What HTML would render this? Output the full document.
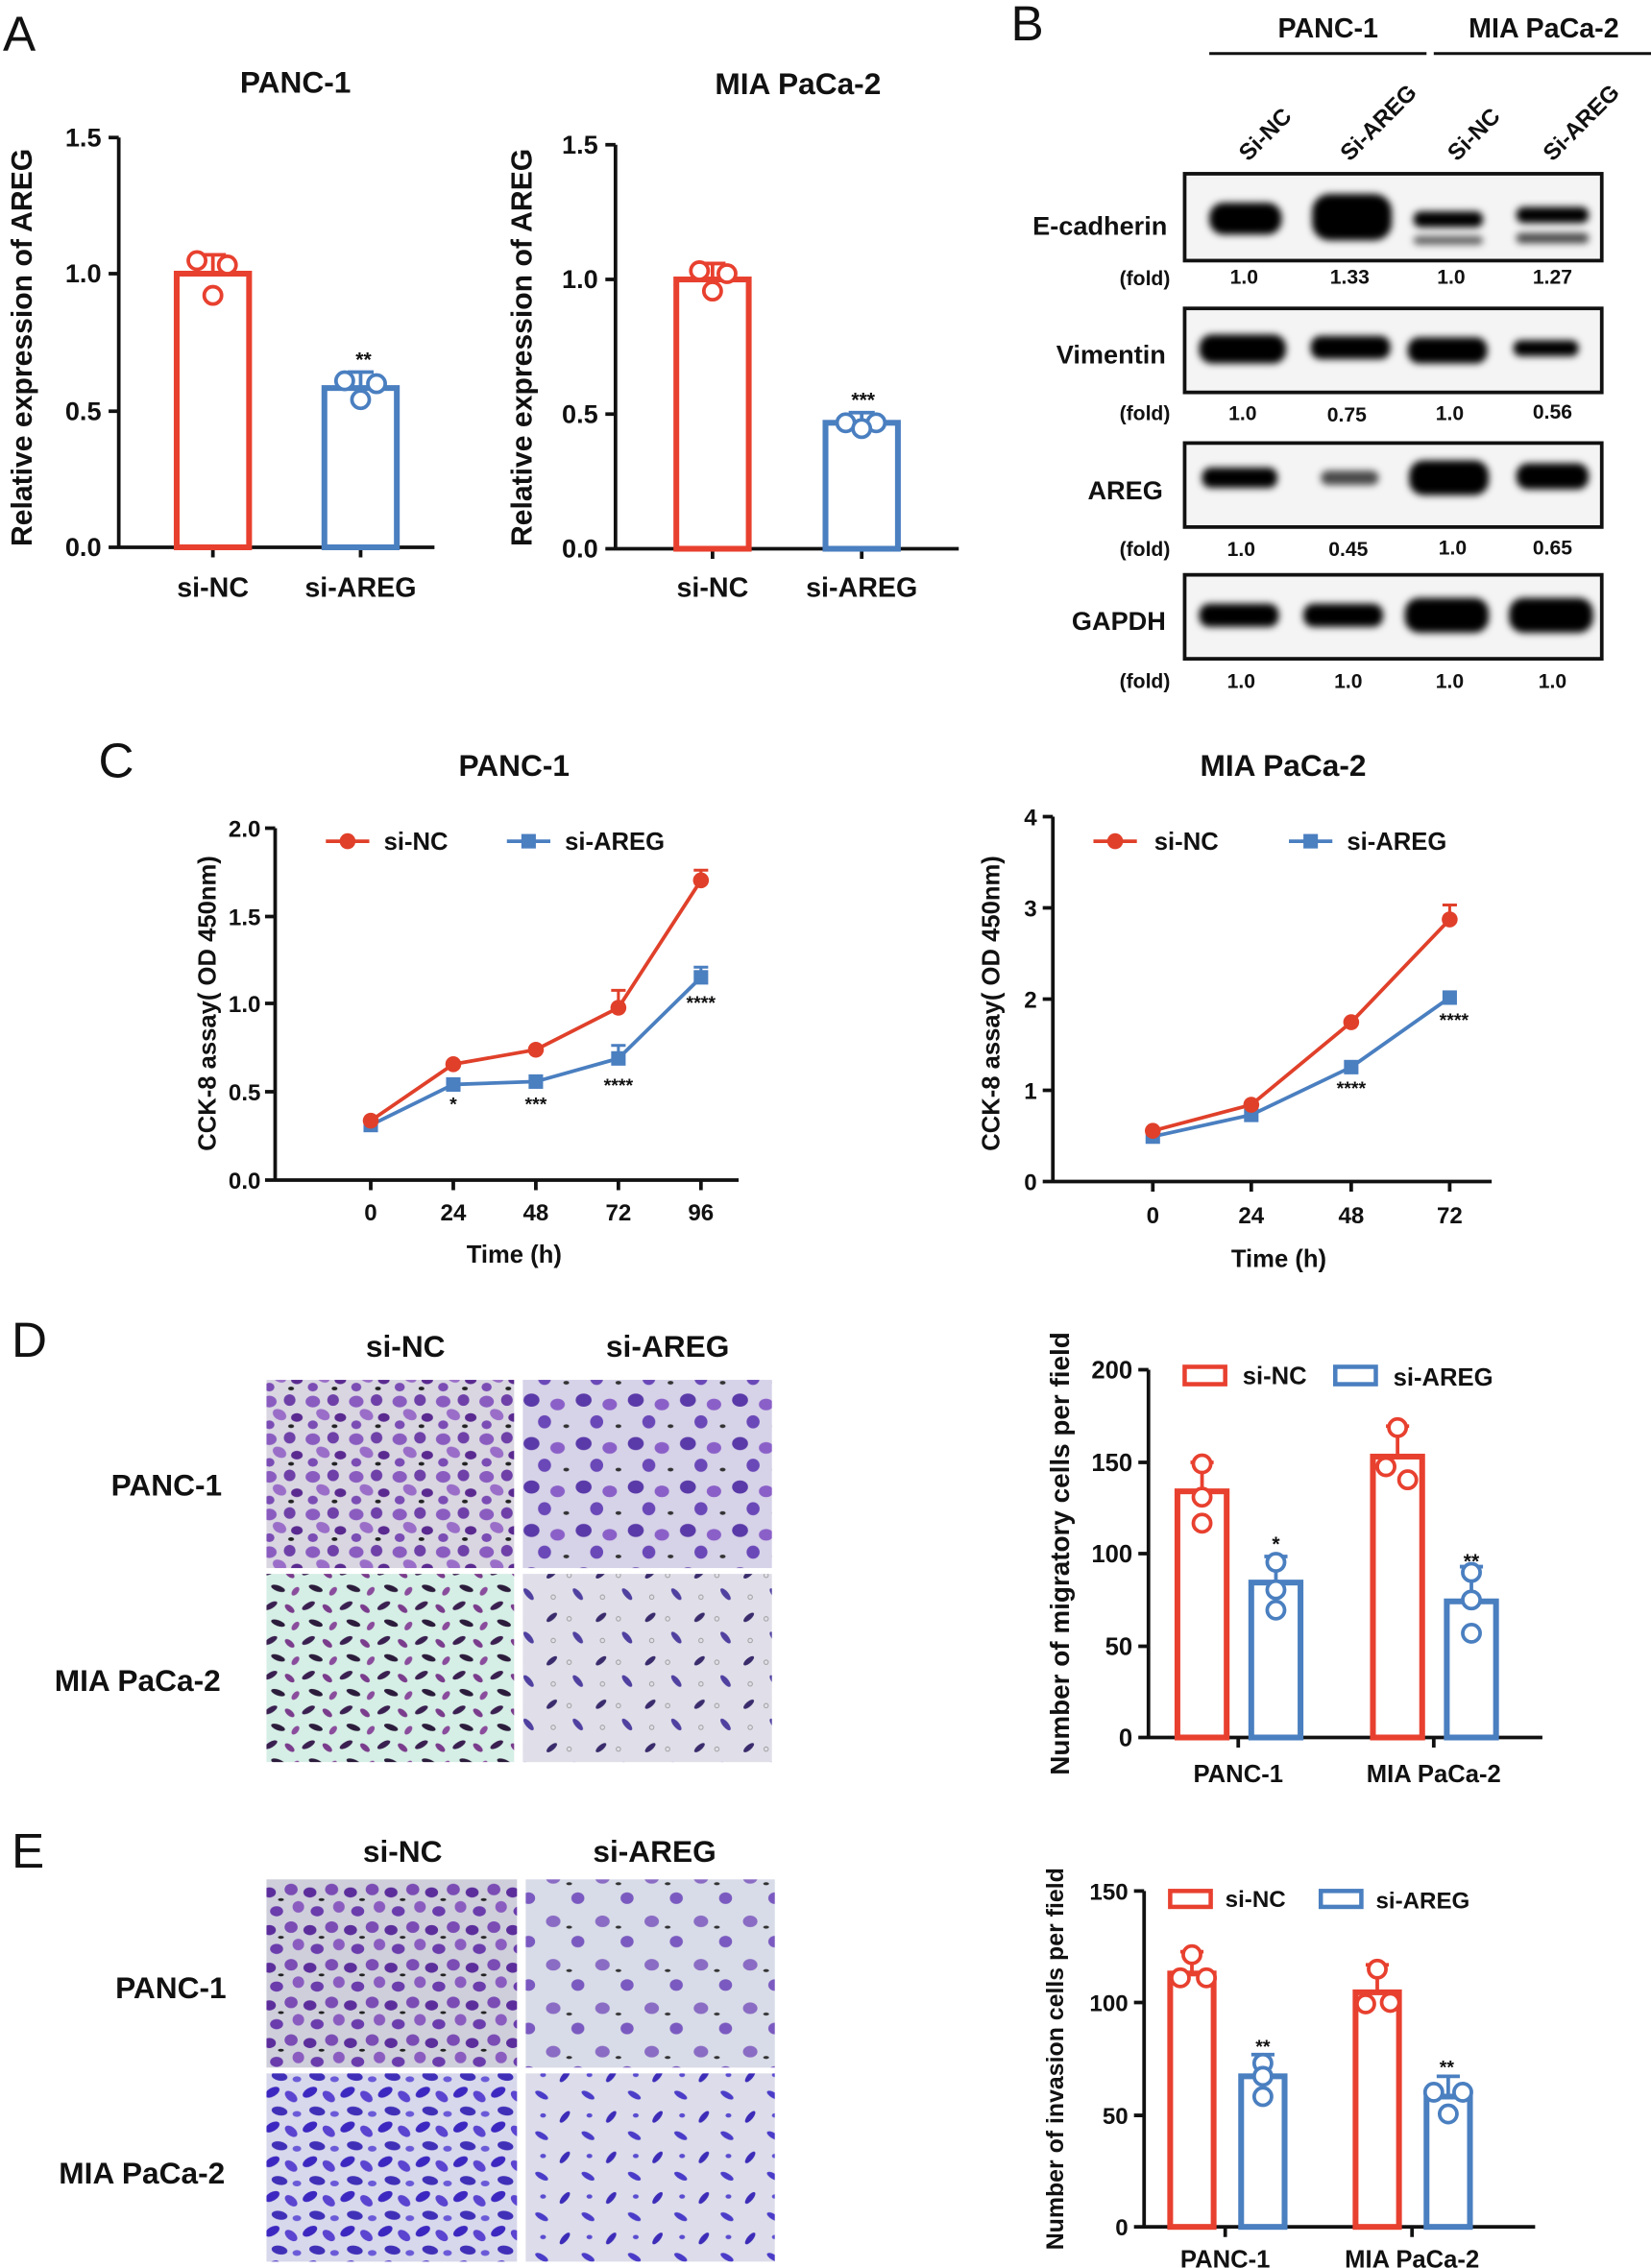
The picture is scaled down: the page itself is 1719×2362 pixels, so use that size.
<!DOCTYPE html>
<html><head><meta charset="utf-8"><style>
html,body{margin:0;padding:0;background:#fff}
svg{display:block}
text{font-family:"Liberation Sans",Arial,sans-serif;font-weight:bold;fill:#111}
</style></head><body>
<svg width="1719" height="2362" viewBox="0 0 1140 1566.4" preserveAspectRatio="none" xmlns="http://www.w3.org/2000/svg">
<defs>
<filter id="bl" x="-20%" y="-50%" width="140%" height="200%"><feGaussianBlur stdDeviation="2.5"/></filter>
<pattern id="p1" width="30" height="26" patternUnits="userSpaceOnUse">
<rect width="30" height="26" fill="#d9d6e2"/>
<ellipse cx="6" cy="6" rx="5" ry="4" fill="#8a5cc0"/><ellipse cx="20" cy="5" rx="4" ry="4" fill="#6e40a8"/>
<ellipse cx="13" cy="15" rx="5" ry="3.5" fill="#9a6ec8" transform="rotate(30 13 15)"/><ellipse cx="25" cy="17" rx="4" ry="3" fill="#5a2a90"/>
<ellipse cx="6" cy="22" rx="3.5" ry="3" fill="#7a4cb4"/><ellipse cx="21" cy="23" rx="2" ry="1.3" fill="#222"/>
</pattern>
<pattern id="p2" width="36" height="30" patternUnits="userSpaceOnUse">
<rect width="36" height="30" fill="#d6d2e8"/>
<ellipse cx="7" cy="7" rx="5.5" ry="4.5" fill="#5a3aa8"/><ellipse cx="25" cy="10" rx="5" ry="4" fill="#8a60c8"/>
<ellipse cx="16" cy="22" rx="4.5" ry="4.5" fill="#6a48b8"/><ellipse cx="31" cy="25" rx="2" ry="1.3" fill="#333"/>
</pattern>
<pattern id="p3" width="26" height="24" patternUnits="userSpaceOnUse">
<rect width="26" height="24" fill="#d6efe6"/>
<ellipse cx="5" cy="5" rx="5" ry="2" fill="#3a2050" transform="rotate(-30 5 5)"/><ellipse cx="18" cy="7" rx="4" ry="2" fill="#7a3c8c" transform="rotate(40 18 7)"/>
<ellipse cx="10" cy="17" rx="5" ry="2" fill="#2c1c3c" transform="rotate(20 10 17)"/><ellipse cx="22" cy="19" rx="3.5" ry="2" fill="#8a4c9c" transform="rotate(-50 22 19)"/>
</pattern>
<pattern id="p4" width="34" height="30" patternUnits="userSpaceOnUse">
<rect width="34" height="30" fill="#e0dfe9"/>
<ellipse cx="7" cy="7" rx="4.5" ry="1.8" fill="#3a2c6c" transform="rotate(-40 7 7)"/><ellipse cx="25" cy="21" rx="5" ry="2" fill="#5040a0" transform="rotate(50 25 21)"/>
<circle cx="19" cy="8" r="1.5" fill="none" stroke="#999" stroke-width=".6"/><circle cx="8" cy="23" r="1.5" fill="none" stroke="#999" stroke-width=".6"/>
</pattern>
<pattern id="p5" width="28" height="26" patternUnits="userSpaceOnUse">
<rect width="28" height="26" fill="#cfcfdc"/>
<ellipse cx="5" cy="5" rx="4.5" ry="4" fill="#7a4cb4"/><ellipse cx="18" cy="7" rx="4.5" ry="3.5" fill="#5c2e9c"/>
<ellipse cx="10" cy="17" rx="4" ry="4" fill="#8a5cc0"/><ellipse cx="23" cy="20" rx="4.5" ry="3.5" fill="#6a3cac"/><ellipse cx="26" cy="12" rx="2" ry="1" fill="#222"/>
</pattern>
<pattern id="p6" width="34" height="30" patternUnits="userSpaceOnUse">
<rect width="34" height="30" fill="#d8dce8"/>
<ellipse cx="8" cy="7" rx="5" ry="4" fill="#8a6cc4"/><ellipse cx="25" cy="21" rx="4.5" ry="4" fill="#7a5ac0"/><ellipse cx="19" cy="11" rx="2" ry="1" fill="#333"/>
</pattern>
<pattern id="p7" width="26" height="24" patternUnits="userSpaceOnUse">
<rect width="26" height="24" fill="#d8d8ec"/>
<ellipse cx="6" cy="5" rx="5.5" ry="3" fill="#3c28c0" transform="rotate(-30 6 5)"/><ellipse cx="19" cy="8" rx="5" ry="3" fill="#5a44d0" transform="rotate(40 19 8)"/>
<ellipse cx="11" cy="18" rx="5.5" ry="3" fill="#4030b8" transform="rotate(10 11 18)"/><ellipse cx="23" cy="20" rx="3" ry="2" fill="#6a5ad8"/>
</pattern>
<pattern id="p8" width="32" height="28" patternUnits="userSpaceOnUse">
<rect width="32" height="28" fill="#dcdcea"/>
<ellipse cx="6" cy="6" rx="5" ry="2" fill="#3c2cb8" transform="rotate(-50 6 6)"/><ellipse cx="22" cy="19" rx="5" ry="2" fill="#4a3cc8" transform="rotate(30 22 19)"/><ellipse cx="23" cy="5" rx="2" ry="1.5" fill="#5a4cd0"/>
</pattern>
</defs>

<!-- Panel A -->
<text x="2" y="35" font-size="34" style="font-weight:normal">A</text>
<text x="204" y="64" font-size="21" text-anchor="middle">PANC-1</text>
<g stroke="#111" stroke-width="2.5" fill="none">
<path d="M82 95V378H300M75 95H82M75 189H82M75 284H82M75 378H82M147 378v7M249 378v7"/>
</g>
<g font-size="18" text-anchor="end"><text x="70" y="101">1.5</text><text x="70" y="195">1.0</text><text x="70" y="290">0.5</text><text x="70" y="384">0.0</text></g>
<text transform="translate(22 240) rotate(-90)" font-size="20" text-anchor="middle">Relative expression of AREG</text>
<rect x="122" y="189" width="50" height="189" fill="none" stroke="#e8402f" stroke-width="4"/>
<rect x="224" y="268" width="50" height="110" fill="none" stroke="#4a7fc0" stroke-width="4"/>
<path d="M147 189v-13m-9 0h18" stroke="#e8402f" stroke-width="2.5"/>
<path d="M249 268v-11m-9 0h18" stroke="#4a7fc0" stroke-width="2.5"/>
<g fill="#fff" stroke="#e8402f" stroke-width="2.5"><circle cx="136" cy="180" r="6"/><circle cx="157" cy="183" r="6"/><circle cx="147" cy="204" r="6"/></g>
<g fill="#fff" stroke="#4a7fc0" stroke-width="2.5"><circle cx="238" cy="263" r="6"/><circle cx="260" cy="265" r="6"/><circle cx="249" cy="276" r="6"/></g>
<text x="251" y="253" font-size="14" text-anchor="middle">**</text>
<text x="147" y="412" font-size="19" text-anchor="middle">si-NC</text><text x="249" y="412" font-size="19" text-anchor="middle">si-AREG</text>

<text x="551" y="65" font-size="21" text-anchor="middle">MIA PaCa-2</text>
<g stroke="#111" stroke-width="2.5" fill="none">
<path d="M425 100V379H662M418 100H425M418 193H425M418 286H425M418 379H425M492 379v7M595 379v7"/>
</g>
<g font-size="18" text-anchor="end"><text x="413" y="106">1.5</text><text x="413" y="199">1.0</text><text x="413" y="292">0.5</text><text x="413" y="385">0.0</text></g>
<text transform="translate(367 240) rotate(-90)" font-size="20" text-anchor="middle">Relative expression of AREG</text>
<rect x="467" y="193" width="50" height="186" fill="none" stroke="#e8402f" stroke-width="4"/>
<rect x="570" y="292" width="50" height="87" fill="none" stroke="#4a7fc0" stroke-width="4"/>
<path d="M492 193v-11m-9 0h18" stroke="#e8402f" stroke-width="2.5"/>
<path d="M595 292v-7m-9 0h18" stroke="#4a7fc0" stroke-width="2.5"/>
<g fill="#fff" stroke="#e8402f" stroke-width="2.5"><circle cx="483" cy="187" r="6"/><circle cx="502" cy="189" r="6"/><circle cx="492" cy="201" r="6"/></g>
<g fill="#fff" stroke="#4a7fc0" stroke-width="2.5"><circle cx="584" cy="292" r="6"/><circle cx="605" cy="292" r="6"/><circle cx="595" cy="296" r="6"/></g>
<text x="596" y="281" font-size="14" text-anchor="middle">***</text>
<text x="492" y="412" font-size="19" text-anchor="middle">si-NC</text><text x="595" y="412" font-size="19" text-anchor="middle">si-AREG</text>

<!-- Panel B -->
<text x="698" y="28" font-size="34" style="font-weight:normal">B</text>
<text x="917" y="26" font-size="19" text-anchor="middle">PANC-1</text>
<text x="1066" y="26" font-size="19" text-anchor="middle">MIA PaCa-2</text>
<path d="M835 37H985M990 37H1140" stroke="#111" stroke-width="2"/>
<g font-size="16">
<text transform="translate(862 112) rotate(-45)">Si-NC</text>
<text transform="translate(932 112) rotate(-45)">Si-AREG</text>
<text transform="translate(1006 112) rotate(-45)">Si-NC</text>
<text transform="translate(1072 112) rotate(-45)">Si-AREG</text>
</g>
<g stroke="#111" stroke-width="2.5" fill="#f4f4f4">
<rect x="818" y="120" width="288" height="60"/><rect x="818" y="213" width="288" height="58"/>
<rect x="818" y="306" width="288" height="58"/><rect x="818" y="397" width="288" height="58"/>
</g>
<g fill="#000" filter="url(#bl)">
<rect x="835" y="140" width="50" height="22" rx="10"/><rect x="906" y="134" width="55" height="32" rx="12"/>
<rect x="976" y="146" width="48" height="11" rx="5"/><rect x="976" y="163" width="48" height="6" rx="3" opacity=".6"/>
<rect x="1047" y="143" width="50" height="11" rx="5"/><rect x="1047" y="161" width="50" height="7" rx="3" opacity=".7"/>
<rect x="828" y="231" width="60" height="20" rx="9"/><rect x="905" y="232" width="55" height="16" rx="7"/>
<rect x="972" y="233" width="55" height="18" rx="8"/><rect x="1045" y="235" width="45" height="11" rx="5"/>
<rect x="830" y="323" width="52" height="14" rx="6"/><rect x="912" y="325" width="40" height="10" rx="5" opacity=".7"/>
<rect x="973" y="318" width="55" height="24" rx="10"/><rect x="1047" y="320" width="50" height="18" rx="8"/>
<rect x="828" y="417" width="55" height="16" rx="7"/><rect x="900" y="417" width="55" height="16" rx="7"/>
<rect x="970" y="413" width="58" height="24" rx="10"/><rect x="1042" y="413" width="58" height="24" rx="10"/>
</g>
<g font-size="18" text-anchor="end"><text x="806" y="162">E-cadherin</text><text x="805" y="251">Vimentin</text><text x="803" y="345">AREG</text><text x="805" y="435">GAPDH</text></g>
<g font-size="14">
<g text-anchor="end"><text x="808" y="197">(fold)</text><text x="808" y="290">(fold)</text><text x="808" y="384">(fold)</text><text x="808" y="475">(fold)</text></g>
<g text-anchor="middle">
<text x="859" y="196">1.0</text><text x="932" y="196">1.33</text><text x="1002" y="196">1.0</text><text x="1072" y="196">1.27</text>
<text x="858" y="290">1.0</text><text x="930" y="291">0.75</text><text x="1001" y="290">1.0</text><text x="1072" y="289">0.56</text>
<text x="857" y="384">1.0</text><text x="931" y="384">0.45</text><text x="1003" y="383">1.0</text><text x="1072" y="383">0.65</text>
<text x="857" y="475">1.0</text><text x="931" y="475">1.0</text><text x="1001" y="475">1.0</text><text x="1072" y="475">1.0</text>
</g></g>

<!-- Panel C -->
<text x="68" y="537" font-size="34" style="font-weight:normal">C</text>
<text x="355" y="536" font-size="21" text-anchor="middle">PANC-1</text>
<g stroke="#111" stroke-width="2.5" fill="none">
<path d="M190 572V815H510M183 572H190M183 633H190M183 693H190M183 754H190M183 815H190M256 815v7M313 815v7M370 815v7M427 815v7M484 815v7"/>
</g>
<g font-size="16" text-anchor="end"><text x="180" y="578">2.0</text><text x="180" y="639">1.5</text><text x="180" y="699">1.0</text><text x="180" y="760">0.5</text><text x="180" y="821">0.0</text></g>
<g font-size="16" text-anchor="middle"><text x="256" y="843">0</text><text x="313" y="843">24</text><text x="370" y="843">48</text><text x="427" y="843">72</text><text x="484" y="843">96</text></g>
<text x="355" y="872" font-size="17" text-anchor="middle">Time (h)</text>
<text transform="translate(149 693) rotate(-90)" font-size="17" text-anchor="middle">CCK-8 assay( OD 450nm)</text>
<path d="M225 581H255" stroke="#e0402a" stroke-width="2.5"/><circle cx="240" cy="581" r="5.5" fill="#e0402a"/><text x="265" y="587" font-size="17">si-NC</text>
<path d="M350 581H380" stroke="#4a7fc0" stroke-width="2.5"/><rect x="360" y="576" width="10" height="10" fill="#4a7fc0"/><text x="390" y="587" font-size="17">si-AREG</text>
<g stroke-width="2"><path d="M427 696V684m-5 0h10M484 608V601m-5 0h10" stroke="#e0402a"/><path d="M427 730V722m-5 0h10M484 678V668m-5 0h10" stroke="#4a7fc0"/></g>
<polyline points="256,777 313,749 370,747 427,731 484,675" fill="none" stroke="#4a7fc0" stroke-width="2.5"/>
<polyline points="256,774 313,735 370,725 427,696 484,608" fill="none" stroke="#e0402a" stroke-width="2.5"/>
<g fill="#4a7fc0"><rect x="251" y="772" width="10" height="10"/><rect x="308" y="744" width="10" height="10"/><rect x="365" y="742" width="10" height="10"/><rect x="422" y="726" width="10" height="10"/><rect x="479" y="670" width="10" height="10"/></g>
<g fill="#e0402a"><circle cx="256" cy="774" r="5.5"/><circle cx="313" cy="735" r="5.5"/><circle cx="370" cy="725" r="5.5"/><circle cx="427" cy="696" r="5.5"/><circle cx="484" cy="608" r="5.5"/></g>
<g font-size="13" text-anchor="middle"><text x="313" y="767">*</text><text x="370" y="767">***</text><text x="427" y="754">****</text><text x="484" y="697">****</text></g>

<text x="886" y="536" font-size="21" text-anchor="middle">MIA PaCa-2</text>
<g stroke="#111" stroke-width="2.5" fill="none">
<path d="M727 564V816H1030M720 564H727M720 627H727M720 690H727M720 753H727M720 816H727M796 816v7M864 816v7M933 816v7M1001 816v7"/>
</g>
<g font-size="16" text-anchor="end"><text x="716" y="570">4</text><text x="716" y="633">3</text><text x="716" y="696">2</text><text x="716" y="759">1</text><text x="716" y="822">0</text></g>
<g font-size="16" text-anchor="middle"><text x="796" y="845">0</text><text x="864" y="845">24</text><text x="933" y="845">48</text><text x="1001" y="845">72</text></g>
<text x="883" y="875" font-size="17" text-anchor="middle">Time (h)</text>
<text transform="translate(690 693) rotate(-90)" font-size="17" text-anchor="middle">CCK-8 assay( OD 450nm)</text>
<path d="M755 581H785" stroke="#e0402a" stroke-width="2.5"/><circle cx="770" cy="581" r="5.5" fill="#e0402a"/><text x="797" y="587" font-size="17">si-NC</text>
<path d="M890 581H920" stroke="#4a7fc0" stroke-width="2.5"/><rect x="900" y="576" width="10" height="10" fill="#4a7fc0"/><text x="930" y="587" font-size="17">si-AREG</text>
<path d="M1001 634V625m-5 0h10" stroke="#e0402a" stroke-width="2"/>
<polyline points="796,785 864,770 933,737 1001,689" fill="none" stroke="#4a7fc0" stroke-width="2.5"/>
<polyline points="796,781 864,763 933,706 1001,635" fill="none" stroke="#e0402a" stroke-width="2.5"/>
<g fill="#4a7fc0"><rect x="791" y="780" width="10" height="10"/><rect x="859" y="765" width="10" height="10"/><rect x="928" y="732" width="10" height="10"/><rect x="996" y="684" width="10" height="10"/></g>
<g fill="#e0402a"><circle cx="796" cy="781" r="5.5"/><circle cx="864" cy="763" r="5.5"/><circle cx="933" cy="706" r="5.5"/><circle cx="1001" cy="635" r="5.5"/></g>
<g font-size="13" text-anchor="middle"><text x="933" y="756">****</text><text x="1004" y="709">****</text></g>

<!-- Panel D -->
<text x="8" y="937" font-size="34" style="font-weight:normal">D</text>
<text x="280" y="937" font-size="21" text-anchor="middle">si-NC</text><text x="461" y="937" font-size="21" text-anchor="middle">si-AREG</text>
<text x="115" y="1033" font-size="21" text-anchor="middle">PANC-1</text><text x="95" y="1168" font-size="21" text-anchor="middle">MIA PaCa-2</text>
<rect x="184" y="953" width="171" height="130" fill="url(#p1)"/><rect x="361" y="953" width="172" height="130" fill="url(#p2)"/>
<rect x="184" y="1087" width="171" height="130" fill="url(#p3)"/><rect x="361" y="1087" width="172" height="130" fill="url(#p4)"/>

<g stroke="#111" stroke-width="2.5" fill="none">
<path d="M793 946V1200H1065M786 946H793M786 1010H793M786 1073H793M786 1137H793M786 1200H793M855 1200v7M990 1200v7"/>
</g>
<g font-size="17" text-anchor="end"><text x="782" y="952">200</text><text x="782" y="1016">150</text><text x="782" y="1079">100</text><text x="782" y="1143">50</text><text x="782" y="1206">0</text></g>
<text transform="translate(738 1073) rotate(-90)" font-size="18.5" text-anchor="middle">Number of migratory cells per field</text>
<rect x="818" y="944" width="28" height="12" fill="none" stroke="#e8402f" stroke-width="3"/><text x="858" y="956" font-size="17">si-NC</text>
<rect x="922" y="944" width="28" height="12" fill="none" stroke="#4a7fc0" stroke-width="3"/><text x="962" y="957" font-size="17">si-AREG</text>
<rect x="813" y="1030" width="34" height="170" fill="none" stroke="#e8402f" stroke-width="4"/>
<rect x="864" y="1093" width="34" height="107" fill="none" stroke="#4a7fc0" stroke-width="4"/>
<rect x="948" y="1006" width="34" height="194" fill="none" stroke="#e8402f" stroke-width="4"/>
<rect x="999" y="1106" width="34" height="94" fill="none" stroke="#4a7fc0" stroke-width="4"/>
<g stroke-width="2.5"><path d="M830 1030v-20m-8 0h16M965 1006v-21m-8 0h16" stroke="#e8402f"/><path d="M881 1093v-18m-8 0h16M1016 1106v-24m-8 0h16" stroke="#4a7fc0"/></g>
<g fill="#fff" stroke="#e8402f" stroke-width="2.5"><circle cx="830" cy="1011" r="6"/><circle cx="830" cy="1034" r="6"/><circle cx="830" cy="1052" r="6"/><circle cx="965" cy="986" r="6"/><circle cx="957" cy="1013" r="6"/><circle cx="972" cy="1022" r="6"/></g>
<g fill="#fff" stroke="#4a7fc0" stroke-width="2.5"><circle cx="881" cy="1079" r="6"/><circle cx="881" cy="1098" r="6"/><circle cx="881" cy="1112" r="6"/><circle cx="1016" cy="1086" r="6"/><circle cx="1016" cy="1105" r="6"/><circle cx="1016" cy="1128" r="6"/></g>
<g font-size="14" text-anchor="middle"><text x="881" y="1071">*</text><text x="1016" y="1083">**</text></g>
<text x="855" y="1231" font-size="17" text-anchor="middle">PANC-1</text><text x="990" y="1231" font-size="17" text-anchor="middle">MIA PaCa-2</text>

<!-- Panel E -->
<text x="8" y="1290" font-size="34" style="font-weight:normal">E</text>
<text x="278" y="1286" font-size="21" text-anchor="middle">si-NC</text><text x="452" y="1286" font-size="21" text-anchor="middle">si-AREG</text>
<text x="118" y="1380" font-size="21" text-anchor="middle">PANC-1</text><text x="98" y="1508" font-size="21" text-anchor="middle">MIA PaCa-2</text>
<rect x="184" y="1298" width="173" height="130" fill="url(#p5)"/><rect x="363" y="1298" width="172" height="130" fill="url(#p6)"/>
<rect x="184" y="1432" width="173" height="130" fill="url(#p7)"/><rect x="363" y="1432" width="172" height="130" fill="url(#p8)"/>

<g stroke="#111" stroke-width="2.5" fill="none">
<path d="M790 1306V1538H1060M783 1306H790M783 1383H790M783 1461H790M783 1538H790M846 1538v7M975 1538v7"/>
</g>
<g font-size="16" text-anchor="end"><text x="779" y="1312">150</text><text x="779" y="1389">100</text><text x="779" y="1467">50</text><text x="779" y="1544">0</text></g>
<text transform="translate(734 1422) rotate(-90)" font-size="16.5" text-anchor="middle">Number of invasion cells per field</text>
<rect x="808" y="1306" width="28" height="11" fill="none" stroke="#e8402f" stroke-width="3"/><text x="846" y="1317" font-size="16">si-NC</text>
<rect x="912" y="1306" width="28" height="11" fill="none" stroke="#4a7fc0" stroke-width="3"/><text x="950" y="1318" font-size="16">si-AREG</text>
<rect x="808" y="1363" width="30" height="175" fill="none" stroke="#e8402f" stroke-width="4"/>
<rect x="857" y="1434" width="30" height="104" fill="none" stroke="#4a7fc0" stroke-width="4"/>
<rect x="936" y="1376" width="30" height="162" fill="none" stroke="#e8402f" stroke-width="4"/>
<rect x="985" y="1448" width="30" height="90" fill="none" stroke="#4a7fc0" stroke-width="4"/>
<g stroke-width="2.5"><path d="M823 1363v-15m-8 0h16M951 1376v-19m-8 0h16" stroke="#e8402f"/><path d="M872 1434v-15m-8 0h16M1000 1448v-14m-8 0h16" stroke="#4a7fc0"/></g>
<g fill="#fff" stroke="#e8402f" stroke-width="2.5"><circle cx="823" cy="1350" r="6"/><circle cx="815" cy="1366" r="6"/><circle cx="833" cy="1366" r="6"/><circle cx="951" cy="1360" r="6"/><circle cx="943" cy="1384" r="6"/><circle cx="960" cy="1383" r="6"/></g>
<g fill="#fff" stroke="#4a7fc0" stroke-width="2.5"><circle cx="872" cy="1425" r="6"/><circle cx="872" cy="1434" r="6"/><circle cx="872" cy="1448" r="6"/><circle cx="990" cy="1445" r="6"/><circle cx="1010" cy="1445" r="6"/><circle cx="1000" cy="1460" r="6"/></g>
<g font-size="13" text-anchor="middle"><text x="872" y="1418">**</text><text x="999" y="1432">**</text></g>
<text x="846" y="1566" font-size="17" text-anchor="middle">PANC-1</text><text x="975" y="1566" font-size="17" text-anchor="middle">MIA PaCa-2</text>
</svg>
</body></html>
